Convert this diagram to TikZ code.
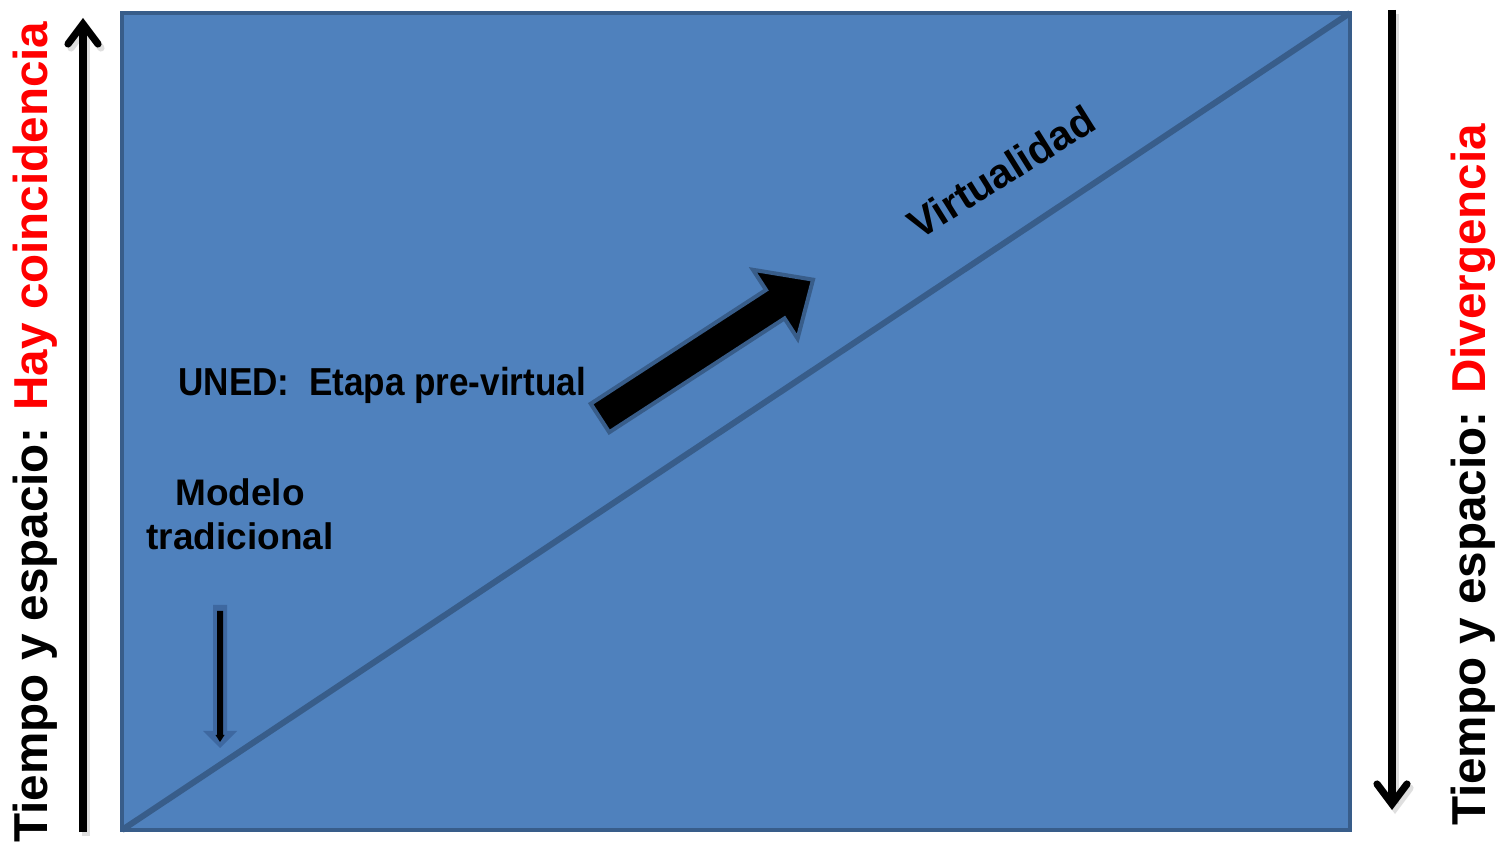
\documentclass[tikz,border=0pt]{standalone}
\usepackage{fontspec}
\setmainfont{Liberation Sans}
\newfontfamily\narrowfont[FakeStretch=0.9]{Liberation Sans}
\usetikzlibrary{arrows.meta}
\definecolor{boxfill}{HTML}{4F81BD}
\definecolor{boxedge}{HTML}{385D8A}
\definecolor{smalledge}{HTML}{3E68A0}
\definecolor{redtxt}{HTML}{FF0000}
\tikzset{
  sidearrow/.style={line width=3.6pt, -{Straight Barb[length=10pt,width=15pt,line cap=round]}},
  bigtext/.style={font=\bfseries\fontsize{23.8}{28}\selectfont, inner sep=0pt},
  labeltext/.style={font=\bfseries\fontsize{18.5}{22}\selectfont, inner sep=0pt},
}
\begin{document}
\begin{tikzpicture}[x=0.5pt,y=-0.5pt]
\useasboundingbox (0,0) rectangle (1501,844);
% main box
\coordinate (bl) at (122,830);
\coordinate (tr) at (1350,13);
\draw[boxedge, fill=boxfill, line width=2pt] (bl) rectangle (tr);
\draw[boxedge, line width=3pt] (bl) -- (tr);
% side arrows
\coordinate (la) at (83,832);
\coordinate (lb) at (83,18);
\coordinate (ra) at (1392,10);
\coordinate (rb) at (1392,810);
\draw[black!25, sidearrow, opacity=0.5] ([shift={(3,4)}]la) -- ([shift={(3,4)}]lb);
\draw[black!25, sidearrow, opacity=0.5] ([shift={(3,4)}]ra) -- ([shift={(3,4)}]rb);
\draw[sidearrow] (la) -- (lb);
\draw[sidearrow] (ra) -- (rb);
% side texts
\node[bigtext, rotate=90] (lefttxt) at (35,432) {Tiempo y espacio: \textcolor{redtxt}{Hay coincidencia}};
\node[bigtext, rotate=90] (righttxt) at (1473,475) {Tiempo y espacio: \textcolor{redtxt}{Divergencia}};
% labels
\node[labeltext, align=center] (modelo) at (240,514) {Modelo\\tradicional};
\node[font=\narrowfont\bfseries\fontsize{19.5}{23}\selectfont, inner sep=0pt, anchor=base west] (uned) at (178,396) {UNED:\ \ Etapa pre-virtual};
\node[font=\bfseries\fontsize{20.5}{24}\selectfont, inner sep=0pt, rotate=32] (virt) at (1001,172) {Virtualidad};
% big block arrow
\begin{scope}[shift={(600,418)}, rotate=33]
\draw[boxedge, fill=black, line width=2pt, line join=miter]
  (0,17) -- (209,17) -- (209,41) -- (254,0) -- (209,-41) -- (209,-17) -- (0,-17) -- cycle;
\end{scope}
% small down arrow
\fill[smalledge] (213,605) -- (227,605) -- (227,731) -- (237,731) -- (220,748) -- (203,731) -- (213,731) -- cycle;
\fill[black] (217,611) -- (223,611) -- (223,735) -- (224.5,735) -- (220,742) -- (215.5,735) -- (217,735) -- cycle;
\end{tikzpicture}
\end{document}
